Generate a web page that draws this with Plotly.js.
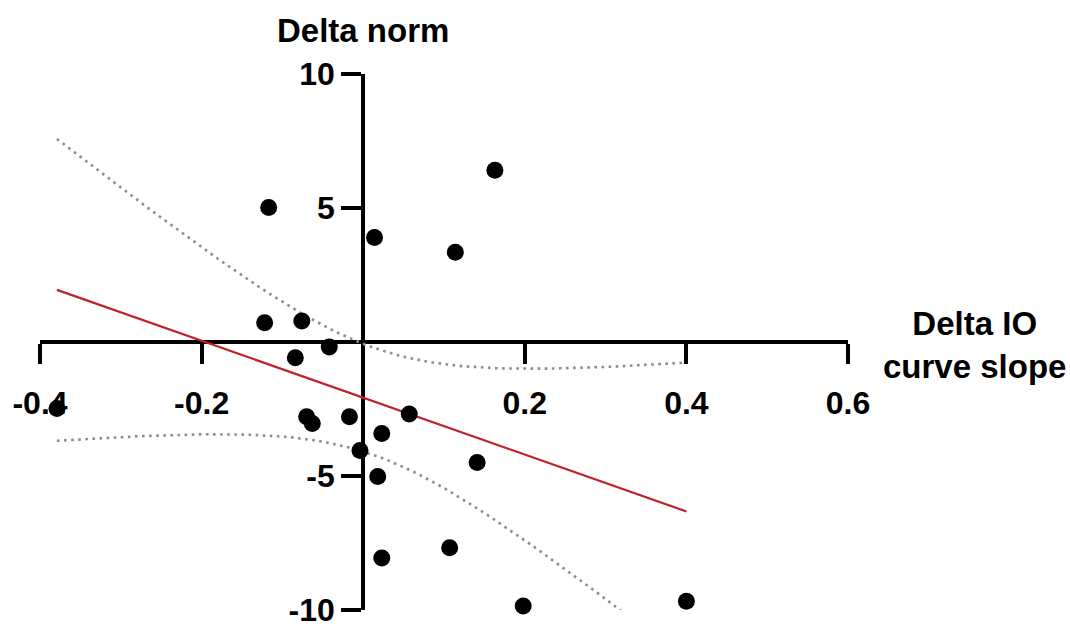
<!DOCTYPE html>
<html>
<head>
<meta charset="utf-8">
<script src="https://cdn.plot.ly/plotly-3.0.1.min.js"></script>
<style>html,body{margin:0;padding:0;background:#fff;}</style>
</head>
<body>
<div id="chart" style="width:1070px;height:628px;"></div>
<script>
// Data points (Delta IO curve slope vs Delta norm)
const deltaIOSlope = [0.163, -0.117, 0.014, 0.114, -0.122, -0.076, -0.042, -0.084, -0.379, -0.070, -0.063, -0.017, 0.057, 0.023, -0.004, 0.141, 0.018, 0.107, 0.023, 0.198, 0.400];
const deltaNorm    = [6.41, 5.02, 3.90, 3.35, 0.72, 0.78, -0.19, -0.59, -2.48, -2.79, -3.04, -2.79, -2.69, -3.41, -4.05, -4.50, -5.02, -7.68, -8.06, -9.85, -9.67];

const xTickVals = [-0.4, -0.2, 0.2, 0.4, 0.6];
const xTickText = ['-0.4', '-0.2', '0.2', '0.4', '0.6'];
const yTickVals = [-10, -5, 5, 10];
const yTickText = ['-10', '-5', '5', '10'];

const xTitle = 'Delta IO<br>curve slope';
const yTitle = 'Delta norm';

// Linear regression (OLS) with 95% confidence band of the fitted line
const n = deltaIOSlope.length;
const mx = deltaIOSlope.reduce((a, b) => a + b, 0) / n;
const my = deltaNorm.reduce((a, b) => a + b, 0) / n;
let sxx = 0, sxy = 0;
for (let i = 0; i < n; i++) {
  sxx += (deltaIOSlope[i] - mx) ** 2;
  sxy += (deltaIOSlope[i] - mx) * (deltaNorm[i] - my);
}
const slope = sxy / sxx;
const intercept = my - slope * mx;
let ssr = 0;
for (let i = 0; i < n; i++) {
  ssr += (deltaNorm[i] - (intercept + slope * deltaIOSlope[i])) ** 2;
}
const s = Math.sqrt(ssr / (n - 2));
const tCrit = 2.093; // t(0.975, df = 19)
const xmin = Math.min(...deltaIOSlope), xmax = Math.max(...deltaIOSlope);
const fitX = [], fitY = [], upY = [], loY = [];
const steps = 80;
for (let k = 0; k <= steps; k++) {
  const x = xmin + (xmax - xmin) * k / steps;
  const yh = intercept + slope * x;
  const se = s * Math.sqrt(1 / n + (x - mx) ** 2 / sxx);
  fitX.push(x); fitY.push(yh);
  upY.push(yh + tCrit * se); loY.push(yh - tCrit * se);
}

const tickFont = {family: 'Liberation Sans, Arial, sans-serif', size: 32, color: '#000', weight: 'bold'};
const titleFont = {family: 'Liberation Sans, Arial, sans-serif', size: 33, color: '#000', weight: 'bold'};

const traces = [
  {x: fitX, y: upY, mode: 'lines', line: {color: '#8c8c8c', width: 2.6, dash: '2.6px,4.5px'}, hoverinfo: 'skip'},
  {x: fitX, y: loY, mode: 'lines', line: {color: '#8c8c8c', width: 2.6, dash: '2.6px,4.5px'}, hoverinfo: 'skip'},
  {x: [xmin, xmax], y: [intercept + slope * xmin, intercept + slope * xmax], mode: 'lines', line: {color: '#c0222b', width: 2.2}},
  {x: deltaIOSlope, y: deltaNorm, mode: 'markers', marker: {color: '#000', size: 17}, cliponaxis: false}
];

const layout = {
  width: 1070, height: 628,
  margin: {l: 40, r: 222, t: 74, b: 18},
  paper_bgcolor: '#fff', plot_bgcolor: '#fff',
  showlegend: false,
  xaxis: {
    range: [-0.4, 0.6], domain: [0, 1], anchor: 'free', position: 0.5,
    showline: true, linecolor: '#000', linewidth: 4, layer: 'below traces',
    ticks: 'outside', ticklen: 20, tickwidth: 4, tickcolor: '#000',
    tickvals: xTickVals, ticktext: xTickText, tickfont: tickFont,
    ticklabelstandoff: 12, ticklabeloverflow: 'allow',
    showgrid: false, zeroline: false
  },
  yaxis: {
    range: [-10, 10], domain: [0, 1], anchor: 'free', position: 0.4,
    showline: true, linecolor: '#000', linewidth: 4, layer: 'below traces',
    ticks: 'outside', ticklen: 20, tickwidth: 4, tickcolor: '#000',
    tickvals: yTickVals, ticktext: yTickText, tickfont: tickFont,
    ticklabeloverflow: 'allow',
    showgrid: false, zeroline: false
  },
  annotations: [
    {text: yTitle, x: 0, xref: 'x', y: 1, yref: 'paper', xanchor: 'center', yanchor: 'middle', yshift: 44, showarrow: false, font: titleFont},
    {text: xTitle, x: 1.156, xref: 'paper', y: 0, yref: 'y', xanchor: 'center', yanchor: 'middle', yshift: -3, showarrow: false, align: 'center', font: titleFont}
  ]
};

Plotly.newPlot('chart', traces, layout, {displayModeBar: false, staticPlot: true});
</script>
</body>
</html>
